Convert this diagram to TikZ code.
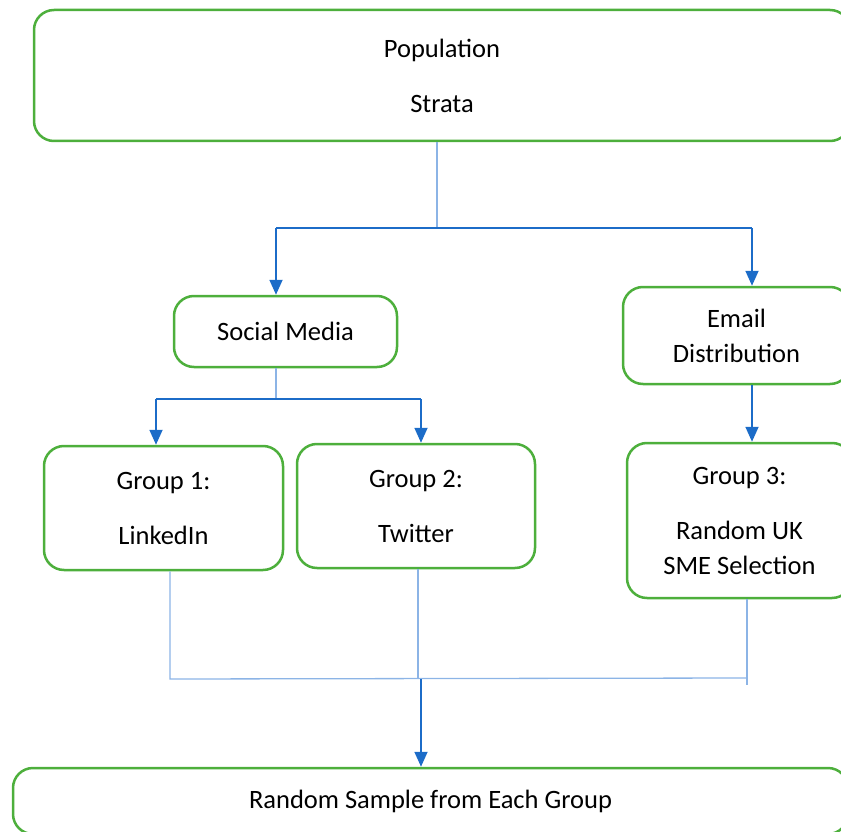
\documentclass[tikz,border=0pt]{standalone}
\usepackage{fontspec}
\setmainfont{Carlito}
\usepackage{xcolor}
\usepackage{tikz}
\usetikzlibrary{positioning,calc,arrows.meta}

\definecolor{boxgreen}{RGB}{77,175,60}
\definecolor{flowblue}{RGB}{28,108,200}
\definecolor{stemblue}{RGB}{140,180,230}

\begin{document}
\begin{tikzpicture}[
	x=1pt, y=-1pt,
	box/.style={draw=boxgreen, line width=2.5pt, rounded corners=20pt, fill=white,
		align=center, inner sep=0pt, font=\fontsize{26.5}{35}\selectfont},
	arrow/.style={-{Triangle[length=15pt,width=13pt]}, flowblue, line width=1.8pt},
	flow/.style={flowblue, line width=1.8pt},
	stem/.style={stemblue, line width=1.3pt}
	]
	\useasboundingbox (0,0) rectangle (841,832);
	\clip (0,0) rectangle (841,832);
	
	% ===== BOXES =====
	\node[box, minimum width=816, minimum height=131] (pop) at (442,75.5) {Population\\[20pt]Strata};
	
	\node[box, minimum width=223, minimum height=71] (social) at (285.5,331.5) {Social Media};
	\node[box, minimum width=227, minimum height=97] (email) at (736.5,335.5) {Email\\Distribution};
	
	\node[box, minimum width=239, minimum height=124] (g1) at (163.5,508) {Group 1:\\[20pt]LinkedIn};
	\node[box, minimum width=238, minimum height=124] (g2) at (416,506) {Group 2:\\[20pt]Twitter};
	\node[box, minimum width=225, minimum height=155] (g3) at (739.5,520.5) {Group 3:\\[20pt]Random UK\\SME Selection};
	
	\node[box, minimum width=835, minimum height=66] (sample) at (430.5,801) {Random Sample from Each Group};
	
	% ===== JOINTS =====
	\coordinate (jtop) at (437,228);
	\coordinate (jmid) at (276,399);
	\coordinate (jbot) at (421,679);
	
	% ===== POPULATION -> SOCIAL / EMAIL =====
	\draw[stem] (jtop |- pop.south) -- (jtop);
	\draw[flow] (276,228) -- (752,228);
	\draw[arrow] (276,228) -- (social.north -| jmid);
	\draw[arrow] (752,228) -- ([xshift=15.5]email.north);
	
	% ===== SOCIAL -> GROUP 1 / GROUP 2 =====
	\draw[stem] (jmid |- social.south) -- (jmid);
	\draw[flow] (156,399) -- (421,399);
	\draw[arrow] (156,399) -- ([xshift=-7.5]g1.north);
	\draw[arrow] (421,399) -- ([xshift=5]g2.north);
	
	% ===== EMAIL -> GROUP 3 =====
	\draw[arrow] ([xshift=15.5]email.south) -- ([xshift=12.5]g3.north);
	
	% ===== GROUPS -> SAMPLE =====
	\draw[stem] ([xshift=6.5]g1.south) -- (170,679) -- (747,678);
	\draw[stem] ([xshift=2]g2.south) -- (418,679);
	\draw[stem] ([xshift=7.5]g3.south) -- (747,685);
	\draw[arrow] (jbot) -- (jbot |- sample.north);
\end{tikzpicture}
\end{document}
